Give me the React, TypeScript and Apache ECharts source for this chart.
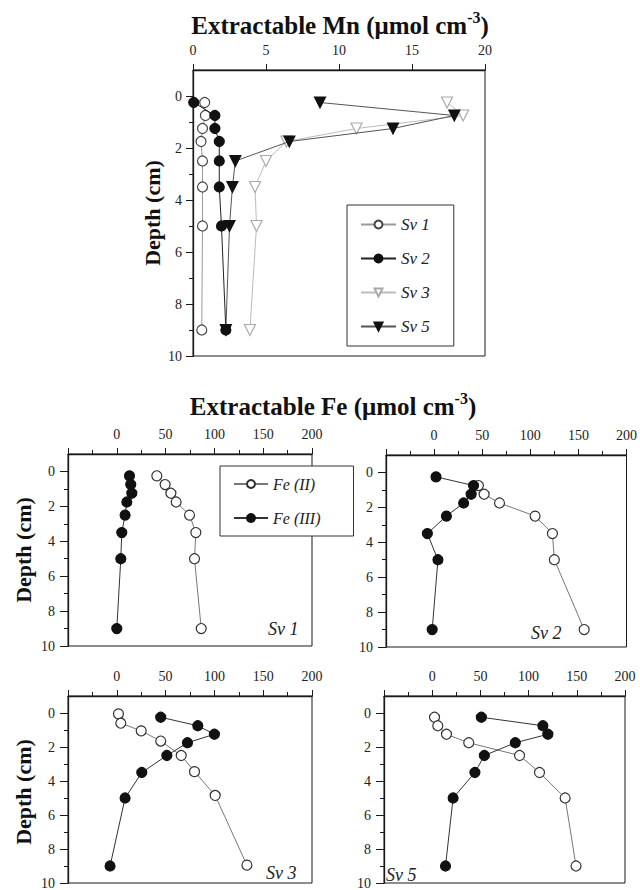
import React, { useEffect, useRef } from 'react';
import * as echarts from 'echarts';

// ---------- data ----------
const depthStd = [0.25, 0.75, 1.25, 1.75, 2.5, 3.5, 5, 9];

// Extractable Mn (µmol cm-3)
const mnSv1 = [0.8, 0.85, 0.65, 0.55, 0.65, 0.65, 0.65, 0.6];
const mnSv2 = [0.05, 1.5, 1.5, 1.8, 1.8, 1.8, 1.95, 2.25];
const mnSv3 = [17.4, 18.5, 11.2, 6.4, 5.0, 4.25, 4.35, 3.9];
const mnSv5 = [8.7, 17.9, 13.7, 6.6, 2.9, 2.7, 2.5, 2.25];

// Extractable Fe (µmol cm-3)
const sv1FeII = [41, 49.5, 55.4, 60.8, 74.5, 81, 79.6, 86.5];
const sv1FeIII = [13, 14.3, 15.4, 10.3, 8.5, 5.1, 4.1, 0];

const sv2FeIIDepth = [0.75, 1.25, 1.75, 2.5, 3.5, 5, 9];
const sv2FeII = [46, 52, 68, 105, 123, 125, 156];
const sv2FeIII = [2, 41, 38.5, 30.7, 12.8, -7, 4, -2];

const sv3FeIIDepth = [0.05, 0.6, 1.05, 1.65, 2.5, 3.45, 4.85, 8.95];
const sv3FeII = [1.7, 4.1, 25, 45, 66, 79.6, 100.8, 133.3];
const sv3FeIII = [45, 83, 100, 72.4, 51.3, 25.6, 8.5, -6.9];

const sv5FeII = [2.4, 5.8, 14.8, 37.9, 90.6, 111.3, 137.9, 149.2];
const sv5FeIII = [51, 114.8, 120, 86.2, 54.1, 44.3, 21.7, 13.8];

// tick labels
const depthLabels = [0, 2, 4, 6, 8, 10];
const depthMinor = [1, 3, 5, 7, 9];
const mnLegend = ['Sv 1', 'Sv 2', 'Sv 3', 'Sv 5'];
const feLegend = ['Fe (II)', 'Fe (III)'];

// ---------- styling ----------
const SERIF = "'Liberation Serif', 'Times New Roman', serif";
const INK = '#1a1a1a';

const pairs = (xs: number[], ys: number[]) => xs.map((x, i) => [x, ys[i]]);

const grids = [
  { left: 193, top: 70, width: 292, height: 286 },
  { left: 68, top: 454, width: 244, height: 192 },
  { left: 386, top: 455, width: 242, height: 192 },
  { left: 68, top: 696, width: 244, height: 192 },
  { left: 384, top: 696, width: 241, height: 192 },
];

function xAxis(gridIndex: number, min: number, max: number, interval: number, minor: boolean) {
  return {
    type: 'value',
    gridIndex,
    position: 'top',
    min,
    max,
    interval,
    axisLine: { show: true, onZero: false, lineStyle: { color: INK, width: 1.3 } },
    axisTick: { show: true, inside: false, length: 6, lineStyle: { color: INK } },
    minorTick: { show: minor, splitNumber: 2, length: 4, lineStyle: { color: INK } },
    splitLine: { show: false },
    minorSplitLine: { show: false },
    axisLabel: {
      show: true,
      margin: 13,
      fontFamily: SERIF,
      fontSize: 14,
      color: '#222',
      showMinLabel: true,
      showMaxLabel: true,
      formatter: (v: number) => (v < 0 ? '' : String(v)),
    },
  };
}

function yMajor(gridIndex: number, margin: number, tickLen: number) {
  return {
    type: 'value',
    gridIndex,
    position: 'left',
    inverse: true,
    min: -1,
    max: 10,
    axisLine: { show: true, onZero: false, lineStyle: { color: INK, width: 1.3 } },
    axisTick: { show: true, inside: false, length: tickLen, customValues: depthLabels, lineStyle: { color: INK } },
    axisLabel: { show: true, margin, customValues: depthLabels, fontFamily: SERIF, fontSize: 14, color: '#222' },
    splitLine: { show: false },
  };
}

function yMinor(gridIndex: number) {
  return {
    type: 'value',
    gridIndex,
    position: 'left',
    inverse: true,
    min: -1,
    max: 10,
    axisLine: { show: false, onZero: false },
    axisTick: { show: true, inside: false, length: 4, customValues: depthMinor, lineStyle: { color: INK } },
    axisLabel: { show: false },
    splitLine: { show: false },
  };
}

function series(
  name: string,
  g: number,
  data: number[][],
  symbol: string,
  size: number,
  fill: string,
  border: string,
  line: string,
  rotate = 0,
  z = 2
) {
  return {
    type: 'line',
    name,
    xAxisIndex: g,
    yAxisIndex: g * 2,
    data,
    symbol,
    symbolSize: size,
    symbolRotate: rotate,
    showSymbol: true,
    silent: true,
    z,
    lineStyle: { color: line, width: 1 },
    itemStyle: { color: fill, borderColor: border, borderWidth: 1.2 },
    emphasis: { disabled: true },
  };
}

function feSeries(g: number, iiDepth: number[], ii: number[], iiiDepth: number[], iii: number[]) {
  return [
    series('Fe (II)', g, pairs(ii, iiDepth), 'circle', 10, '#fff', '#333', '#777', 0, 2),
    series('Fe (III)', g, pairs(iii, iiiDepth), 'circle', 10, '#111', '#111', '#333', 0, 3),
  ];
}

function supTitle(text: string, x: number, y: number) {
  return {
    type: 'text',
    x,
    y,
    style: {
      text: `{a|${text} (μmol cm}{s|-3}{a|)}`,
      align: 'center',
      verticalAlign: 'middle',
      rich: {
        a: { fontSize: 25, fontWeight: 'bold', fontFamily: SERIF, lineHeight: 31, fill: '#111' },
        s: { fontSize: 16, fontWeight: 'bold', fontFamily: SERIF, lineHeight: 24, verticalAlign: 'top', fill: '#111' },
      },
    },
  };
}

function depthName(x: number, y: number, size: number) {
  return {
    type: 'text',
    x,
    y,
    rotation: Math.PI / 2,
    style: {
      text: 'Depth (cm)',
      fontFamily: SERIF,
      fontWeight: 'bold',
      fontSize: size,
      fill: '#111',
      align: 'center',
      verticalAlign: 'middle',
    },
  };
}

function svLabel(text: string, x: number, y: number) {
  return {
    type: 'text',
    x,
    y,
    style: {
      text,
      fontFamily: SERIF,
      fontStyle: 'italic',
      fontSize: 18,
      fill: '#222',
      align: 'left',
      verticalAlign: 'middle',
    },
  };
}

function buildOption() {
  const xAxes = [
    xAxis(0, 0, 20, 5, false),
    xAxis(1, -50, 200, 50, true),
    xAxis(2, -50, 200, 50, true),
    xAxis(3, -50, 200, 50, true),
    xAxis(4, -50, 200, 50, true),
  ];
  const yAxes: any[] = [];
  grids.forEach((_, g) => {
    yAxes.push(g === 0 ? yMajor(g, 11, 7) : yMajor(g, 13, 8));
    yAxes.push(yMinor(g));
  });

  const allSeries = [
    series('Sv 1', 0, pairs(mnSv1, depthStd), 'circle', 10, '#fff', '#444', '#999', 0, 2),
    series('Sv 3', 0, pairs(mnSv3, depthStd), 'triangle', 11, '#fff', '#aaa', '#bbb', 180, 2),
    series('Sv 5', 0, pairs(mnSv5, depthStd), 'triangle', 11, '#111', '#111', '#555', 180, 3),
    series('Sv 2', 0, pairs(mnSv2, depthStd), 'circle', 10, '#111', '#111', '#222', 0, 4),
    ...feSeries(1, depthStd, sv1FeII, depthStd, sv1FeIII),
    ...feSeries(2, sv2FeIIDepth, sv2FeII, depthStd, sv2FeIII),
    ...feSeries(3, sv3FeIIDepth, sv3FeII, depthStd, sv3FeIII),
    ...feSeries(4, depthStd, sv5FeII, depthStd, sv5FeIII),
  ];

  const legendText = { fontFamily: SERIF, fontStyle: 'italic', color: '#222' };

  return {
    animation: false,
    backgroundColor: '#fff',
    grid: grids.map((g) => ({ ...g, show: true, borderColor: INK, borderWidth: 1, backgroundColor: 'transparent' })),
    xAxis: xAxes,
    yAxis: yAxes,
    legend: [
      {
        data: mnLegend,
        orient: 'vertical',
        left: 347,
        top: 205,
        padding: [11, 24, 11, 13],
        itemGap: 17,
        itemWidth: 35,
        itemHeight: 10,
        borderColor: '#333',
        borderWidth: 1,
        backgroundColor: '#fff',
        selectedMode: false,
        textStyle: { ...legendText, fontSize: 17 },
        z: 10,
      },
      {
        data: feLegend,
        orient: 'vertical',
        left: 220,
        top: 466,
        padding: [10, 33, 10, 13],
        itemGap: 18,
        itemWidth: 34,
        itemHeight: 10,
        borderColor: '#333',
        borderWidth: 1,
        backgroundColor: '#fff',
        selectedMode: false,
        textStyle: { ...legendText, fontSize: 16 },
        z: 10,
      },
    ],
    graphic: [
      supTitle('Extractable Mn', 340, 25),
      supTitle('Extractable Fe', 333, 406),
      depthName(152, 213, 22),
      depthName(23, 550, 22),
      depthName(23, 792, 22),
      svLabel('Sv 1', 268, 629),
      svLabel('Sv 2', 531, 633),
      svLabel('Sv 3', 266, 873),
      svLabel('Sv 5', 386, 875),
    ],
    series: allSeries,
  };
}

export default function App() {
  const ref = useRef<HTMLDivElement>(null);
  useEffect(() => {
    if (!ref.current) return;
    const chart = echarts.init(ref.current, null, { renderer: 'svg' });
    chart.setOption(buildOption() as any);
    return () => chart.dispose();
  }, []);
  return (
    <div
      ref={ref}
      style={{ position: 'fixed', left: 0, top: 0, width: 640, height: 890, background: '#fff' }}
    />
  );
}
